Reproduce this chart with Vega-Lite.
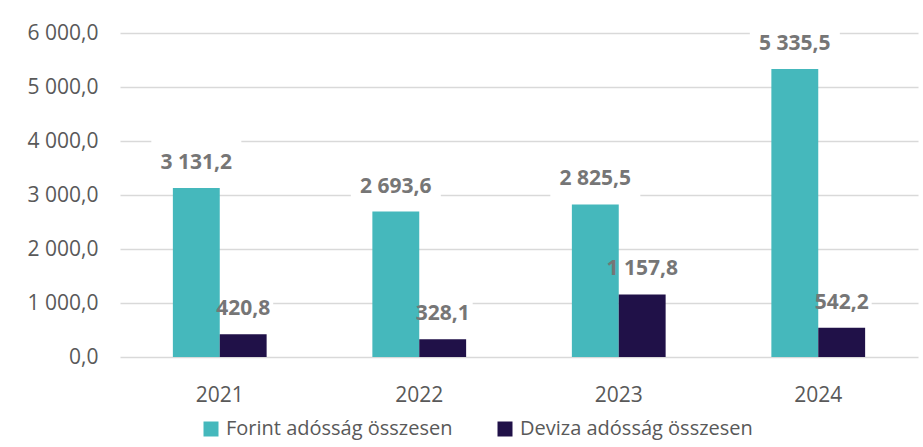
{
  "$schema": "https://vega.github.io/schema/vega-lite/v6.json",
  "width": 798,
  "height": 324,
  "autosize": {"type": "none"},
  "padding": {"left": 120, "top": 33, "right": 5, "bottom": 90},
  "background": "white",
  "config": {
    "locale": {"number": {"decimal": ",", "thousands": " ", "grouping": [3], "currency": ["", ""]}},
    "view": {"stroke": null},
    "font": "Open Sans"
  },
  "data": {
    "values": [
      {"year": "2021", "series": "Forint adósság összesen", "value": 3131.2},
      {"year": "2021", "series": "Deviza adósság összesen", "value": 420.8},
      {"year": "2022", "series": "Forint adósság összesen", "value": 2693.6},
      {"year": "2022", "series": "Deviza adósság összesen", "value": 328.1},
      {"year": "2023", "series": "Forint adósság összesen", "value": 2825.5},
      {"year": "2023", "series": "Deviza adósság összesen", "value": 1157.8},
      {"year": "2024", "series": "Forint adósság összesen", "value": 5335.5},
      {"year": "2024", "series": "Deviza adósság összesen", "value": 542.2}
    ]
  },
  "encoding": {
    "x": {
      "field": "year", "type": "nominal",
      "scale": {"paddingInner": 0.53, "paddingOuter": 0.265},
      "axis": {"title": null, "domain": false, "ticks": false, "labelAngle": 0, "labelPadding": 27, "labelFontSize": 21, "labelColor": "#595959", "labelFont": "Open Sans"}
    },
    "xOffset": {
      "field": "series", "type": "nominal",
      "scale": {"domain": ["Forint adósság összesen", "Deviza adósság összesen"], "paddingInner": 0, "paddingOuter": 0}
    },
    "y": {
      "field": "value", "type": "quantitative",
      "scale": {"domain": [0, 6000], "nice": false},
      "axis": {"title": null, "domain": false, "ticks": false, "grid": true, "gridColor": "#D9D9D9", "gridWidth": 1.5, "values": [0, 1000, 2000, 3000, 4000, 5000, 6000], "format": ",.1f", "labelPadding": 22, "labelFontSize": 21, "labelColor": "#595959", "labelFont": "Open Sans"}
    }
  },
  "layer": [
    {
      "transform": [{"filter": "datum.series === 'Forint adósság összesen'"}],
      "mark": {"type": "tick", "color": "white", "opacity": 1, "thickness": 46, "size": 90, "yOffset": -25}
    },
    {
      "transform": [{"filter": "datum.series === 'Deviza adósság összesen'"}],
      "mark": {"type": "tick", "color": "white", "opacity": 1, "thickness": 30, "size": 60, "yOffset": -25}
    },
    {
      "mark": {"type": "bar"},
      "encoding": {
        "color": {
          "field": "series", "type": "nominal",
          "scale": {"domain": ["Forint adósság összesen", "Deviza adósság összesen"], "range": ["#45B8BC", "#201148"]},
          "legend": {"title": null, "orient": "none", "legendX": 81, "legendY": 386, "direction": "horizontal", "symbolType": "square", "symbolSize": 225, "symbolStrokeWidth": 0, "labelFontSize": 20, "labelColor": "#595959", "labelFont": "Open Sans", "columnPadding": 42, "labelOffset": 5, "labelLimit": 400}
        }
      }
    },
    {
      "mark": {"type": "text", "fontWeight": "bold", "fontSize": 21, "color": "#767676", "baseline": "middle", "dy": -25, "font": "Open Sans"},
      "encoding": {"text": {"field": "value", "type": "quantitative", "format": ",.1f"}}
    }
  ]
}
